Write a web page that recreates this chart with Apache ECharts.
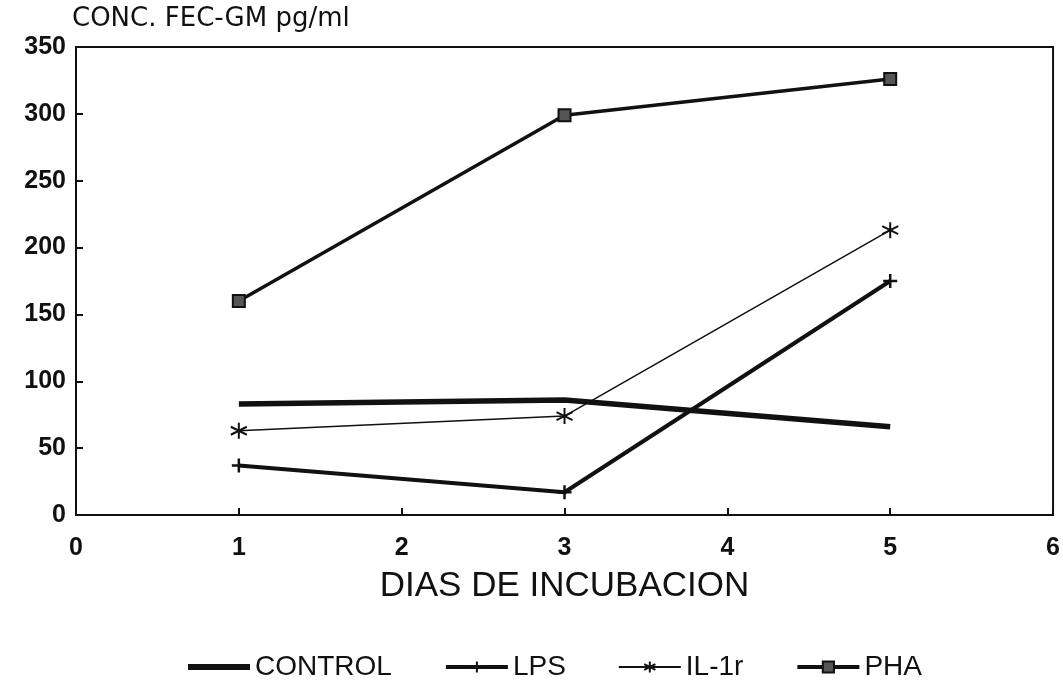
<!DOCTYPE html>
<html><head><meta charset="utf-8">
<script src="https://cdn.jsdelivr.net/npm/echarts@6/dist/echarts.min.js"></script>
<style>html,body{margin:0;padding:0;background:#fff}#c{width:1063px;height:686px}</style>
</head><body><div id="c"></div>
<script>
const days = [1, 3, 5];
const control = [83, 86, 66];
const lps = [37, 17, 175];
const il1r = [63, 74, 213];
const pha = [160, 299, 326];
const seriesNames = ['CONTROL', 'LPS', 'IL-1r', 'PHA'];
const yTitle = 'CONC. FEC-GM pg/ml';
const xTitle = 'DIAS DE INCUBACION';

const FONT = 'Liberation Sans, Arial, sans-serif';
const INK = '#111';
const starPath = 'path://M0,-10L0,10M-9,-5L9,5M-9,5L9,-5';
const plusPath = 'path://M0,-10L0,10M-10,0L10,0';

function pts(vals){ return days.map((d,i)=>[d, vals[i]]); }

const chart = echarts.init(document.getElementById('c'));
chart.setOption({
  animation: false,
  backgroundColor: '#fff',
  grid: { left: 76, right: 8, top: 47, bottom: 171, show: true, borderColor: INK, borderWidth: 2 },
  title: { text: yTitle, left: 72, top: 6, padding: 0, textStyle: { fontFamily: 'DejaVu Sans, sans-serif', fontSize: 26, fontWeight: 'normal', color: INK } },
  legend: {
    top: 648, left: 180, itemWidth: 62, itemHeight: 14, itemGap: 52,
    textStyle: { fontFamily: FONT, fontSize: 28, color: INK },
    data: [
      { name: seriesNames[0], lineStyle: { width: 6 }, itemStyle: { color: 'rgba(0,0,0,0)', borderWidth: 0 } },
      { name: seriesNames[1], lineStyle: { width: 4 } },
      { name: seriesNames[2], lineStyle: { width: 2 } },
      { name: seriesNames[3], lineStyle: { width: 4 } }
    ]
  },
  xAxis: {
    type: 'value', min: 0, max: 6, interval: 1,
    name: xTitle, nameLocation: 'middle', nameGap: 54,
    nameTextStyle: { fontFamily: FONT, fontSize: 35, color: INK },
    axisLine: { lineStyle: { color: INK, width: 2 } },
    axisTick: { inside: true, length: 7, lineStyle: { color: INK, width: 2 } },
    axisLabel: { margin: 21, fontFamily: FONT, fontSize: 25, fontWeight: 'bold', color: INK },
    splitLine: { show: false }
  },
  yAxis: {
    type: 'value', min: 0, max: 350, interval: 50,
    axisLine: { show: true, lineStyle: { color: INK, width: 2 } },
    axisTick: { show: true, inside: true, length: 7, lineStyle: { color: INK, width: 2 } },
    axisLabel: { margin: 10, fontFamily: FONT, fontSize: 25, fontWeight: 'bold', color: INK },
    splitLine: { show: false }
  },
  series: [
    { name: seriesNames[0], type: 'line', data: pts(control), symbol: 'none', lineStyle: { color: INK, width: 5.5 }, itemStyle: { color: INK } },
    { name: seriesNames[1], type: 'line', data: pts(lps), symbol: plusPath, symbolSize: 14, lineStyle: { color: INK, width: 4 }, itemStyle: { color: INK, borderColor: INK, borderWidth: 2.5 } },
    { name: seriesNames[2], type: 'line', data: pts(il1r), symbol: starPath, symbolSize: 16, lineStyle: { color: INK, width: 1.5 }, itemStyle: { color: INK, borderColor: INK, borderWidth: 2 } },
    { name: seriesNames[3], type: 'line', data: pts(pha), symbol: 'rect', symbolSize: 12, lineStyle: { color: INK, width: 3.5 }, itemStyle: { color: '#555', borderColor: INK, borderWidth: 2 } }
  ]
});
</script></body></html>
